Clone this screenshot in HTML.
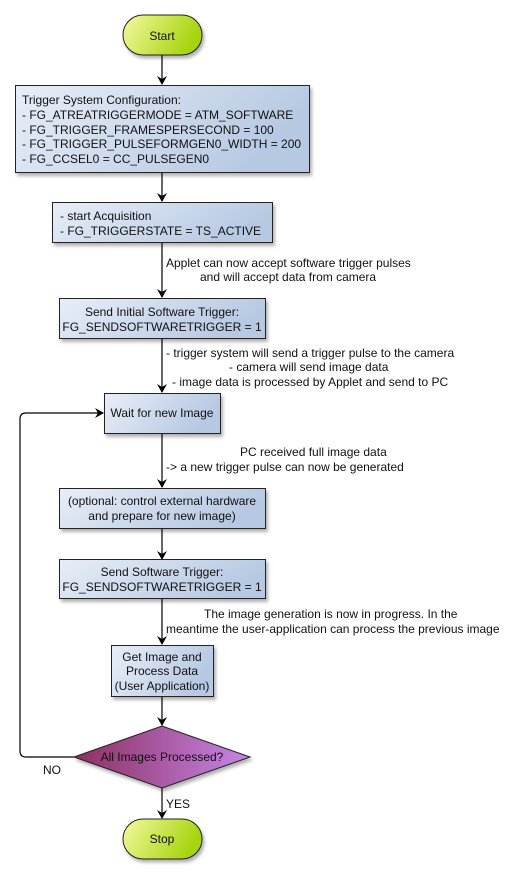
<!DOCTYPE html>
<html><head><meta charset="utf-8"><style>
html,body{margin:0;padding:0;background:#fff;width:517px;height:874px;overflow:hidden}
text{font-family:"Liberation Sans",sans-serif;font-size:12px;fill:#111}
</style></head><body>
<svg width="517" height="874" viewBox="0 0 517 874" xmlns="http://www.w3.org/2000/svg">
<defs>
<linearGradient id="g" x1="0" y1="0" x2="1" y2="0.3"><stop offset="0" stop-color="#f5f9a0"/><stop offset="1" stop-color="#a6d40e"/></linearGradient>
<linearGradient id="b" x1="0" y1="0" x2="1" y2="0.3"><stop offset="0" stop-color="#e8eef8"/><stop offset="1" stop-color="#b6c8e2"/></linearGradient>
<linearGradient id="p" x1="0" y1="0" x2="1" y2="0"><stop offset="0" stop-color="#8c3060"/><stop offset="1" stop-color="#c785e8"/></linearGradient>
<marker id="a" markerWidth="10" markerHeight="10" refX="8" refY="5" orient="auto" markerUnits="userSpaceOnUse"><path d="M0,0 L9,5 L0,10 L3,5 z" fill="#000"/></marker>
<filter id="s" x="-10%" y="-10%" width="130%" height="140%"><feDropShadow dx="2" dy="3" stdDeviation="1.5" flood-color="#000" flood-opacity="0.3"/></filter>
</defs>
<g stroke="#000" stroke-width="1.2" fill="none">
<line x1="162" y1="55" x2="162" y2="84" marker-end="url(#a)"/>
<line x1="162" y1="172" x2="162" y2="201" marker-end="url(#a)"/>
<line x1="162" y1="242" x2="162" y2="297" marker-end="url(#a)"/>
<line x1="162" y1="338" x2="162" y2="392" marker-end="url(#a)"/>
<line x1="162" y1="433" x2="162" y2="487" marker-end="url(#a)"/>
<line x1="162" y1="528" x2="162" y2="559" marker-end="url(#a)"/>
<line x1="162" y1="598" x2="162" y2="644" marker-end="url(#a)"/>
<line x1="162" y1="696" x2="162" y2="725" marker-end="url(#a)"/>
<line x1="162" y1="788" x2="162" y2="818" marker-end="url(#a)"/>
<path d="M74,757 L26,757 Q20,757 20,751 L20,419 Q20,413 26,413 L103,413" marker-end="url(#a)"/>
</g>
<g stroke="#222" stroke-width="1" filter="url(#s)">
<rect x="123" y="15" width="79" height="40" rx="20" fill="url(#g)"/>
<rect x="15.5" y="85.5" width="294" height="87" fill="url(#b)"/>
<rect x="52.5" y="202.5" width="220" height="40" fill="url(#b)"/>
<rect x="59.5" y="298.5" width="206" height="40" fill="url(#b)"/>
<rect x="104.5" y="393.5" width="116" height="40" fill="url(#b)"/>
<rect x="59.5" y="488.5" width="206" height="40" fill="url(#b)"/>
<rect x="59.5" y="559.5" width="206" height="39" fill="url(#b)"/>
<rect x="111.5" y="645.5" width="102" height="51" fill="url(#b)"/>
<polygon points="74,757 162,726 250,757 162,788" fill="url(#p)"/>
<rect x="123" y="819" width="79" height="40" rx="20" fill="url(#g)"/>
</g>
<text x="162" y="40" text-anchor="middle">Start</text>
<text x="22" y="104">Trigger System Configuration:</text>
<text x="22" y="119">- FG_ATREATRIGGERMODE = ATM_SOFTWARE</text>
<text x="22" y="134">- FG_TRIGGER_FRAMESPERSECOND = 100</text>
<text x="22" y="148">- FG_TRIGGER_PULSEFORMGEN0_WIDTH = 200</text>
<text x="22" y="163">- FG_CCSEL0 = CC_PULSEGEN0</text>
<text x="60" y="220">- start Acquisition</text>
<text x="60" y="235">- FG_TRIGGERSTATE = TS_ACTIVE</text>
<text x="166" y="267">Applet can now accept software trigger pulses</text>
<text x="200" y="281">and will accept data from camera</text>
<text x="162" y="316" text-anchor="middle">Send Initial Software Trigger:</text>
<text x="162" y="331" text-anchor="middle">FG_SENDSOFTWARETRIGGER = 1</text>
<text x="166" y="357">- trigger system will send a trigger pulse to the camera</text>
<text x="229" y="371">- camera will send image data</text>
<text x="172" y="386">- image data is processed by Applet and send to PC</text>
<text x="162" y="417" text-anchor="middle">Wait for new Image</text>
<text x="240" y="456">PC received full image data</text>
<text x="166" y="471">-&gt; a new trigger pulse can now be generated</text>
<text x="162" y="505" text-anchor="middle">(optional: control external hardware</text>
<text x="162" y="520" text-anchor="middle">and prepare for new image)</text>
<text x="162" y="576" text-anchor="middle">Send Software Trigger:</text>
<text x="162" y="591" text-anchor="middle">FG_SENDSOFTWARETRIGGER = 1</text>
<text x="204" y="618">The image generation is now in progress. In the</text>
<text x="166" y="633">meantime the user-application can process the previous image</text>
<text x="162" y="661" text-anchor="middle">Get Image and</text>
<text x="162" y="675" text-anchor="middle">Process Data</text>
<text x="162" y="690" text-anchor="middle">(User Application)</text>
<text x="162" y="761" text-anchor="middle">All Images Processed?</text>
<text x="43" y="774">NO</text>
<text x="166" y="808">YES</text>
<text x="162" y="843" text-anchor="middle">Stop</text>
</svg>
</body></html>
